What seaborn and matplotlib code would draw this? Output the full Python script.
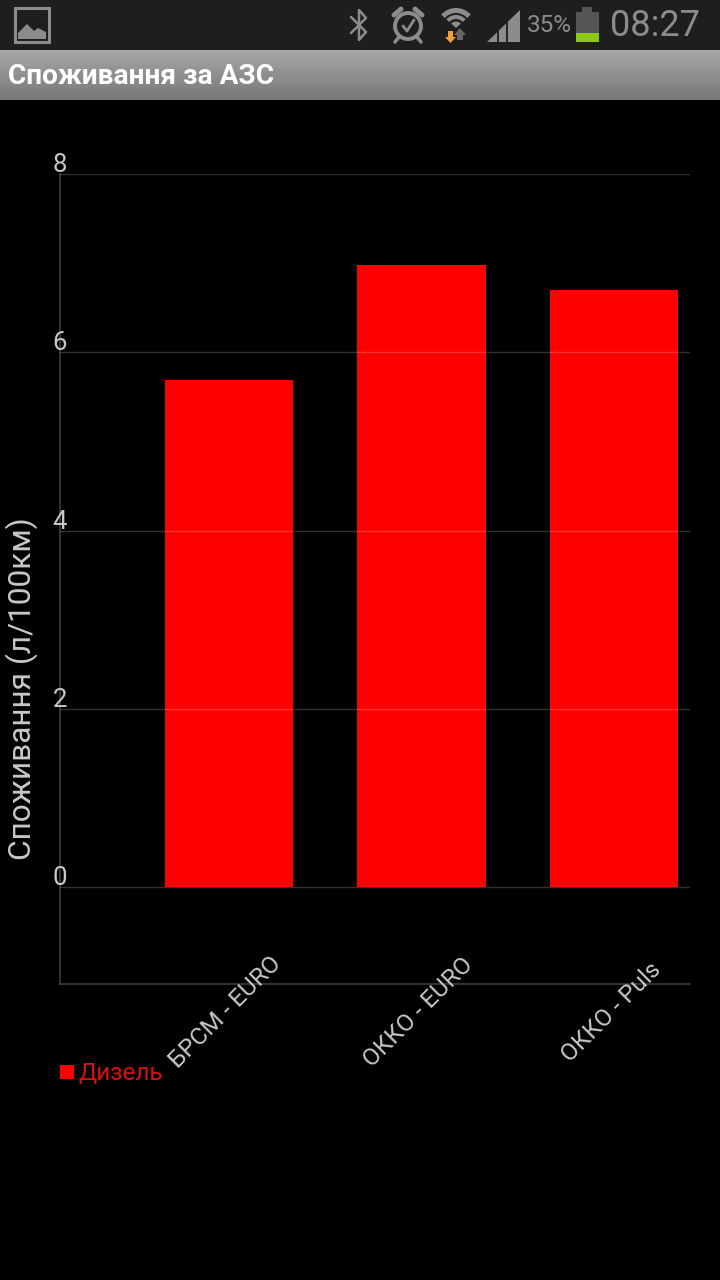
import matplotlib
matplotlib.use("Agg")
import matplotlib.pyplot as plt
import numpy as np
import pandas as pd
import seaborn as sns
from matplotlib.lines import Line2D
from matplotlib.patches import Circle, Polygon, Rectangle, Wedge
from matplotlib.transforms import ScaledTranslation

stations = ["БРСМ - EURO", "ОККО - EURO", "ОККО - Puls"]
consumption = [5.69, 6.98, 6.70]
y_ticks = [0, 2, 4, 6, 8]
series_name = "Дизель"
y_title = "Споживання (л/100км)"
screen_title = "Споживання за АЗС"

sns.set_theme(style="dark")
plt.rcParams["font.family"] = ["Roboto", "DejaVu Sans"]

W, H = 720, 1280
fig = plt.figure(figsize=(W / 100, H / 100), dpi=100, facecolor="black")


def nudge(text, dx, dy):
    # shift a text by screen pixels (dy > 0 is down)
    off = ScaledTranslation(dx / 100, -dy / 100, fig.dpi_scale_trans)
    text.set_transform(text.get_transform() + off)


# ----------------------------------
# Chart
# ----------------------------------
ax = fig.add_axes([60 / W, 1 - 984 / H, 630 / W, 810 / H], facecolor="black")
df = pd.DataFrame({"station": stations, "value": consumption})
sns.barplot(data=df, x="station", y="value", color="#ff0000", saturation=1,
            width=0.667, linewidth=0, ax=ax, zorder=2)
ax.set_xlim(-0.878, 2.395)
ax.set_ylim(-1.088, 8)
ax.set_xlabel("")
ax.set_ylabel("")

for s in ["top", "right"]:
    ax.spines[s].set_visible(False)
for s in ["left", "bottom"]:
    ax.spines[s].set_color("#3c3c3c")
    ax.spines[s].set_linewidth(1.2)

ax.set_yticks(y_ticks)
ax.set_yticklabels([str(t) for t in y_ticks], color="#c8c8c8", fontsize=18.5,
                   ha="center", va="bottom")
ax.tick_params(axis="y", length=0, pad=0)
ax.tick_params(axis="x", length=4, width=1, color="#555555", pad=-4)
ax.yaxis.grid(True, color="#ffffff", alpha=0.2, linewidth=1, zorder=3)
ax.xaxis.grid(False)
ax.set_axisbelow(False)
for lab in ax.get_yticklabels():
    nudge(lab, 0, 3)

ax.set_xticks(range(len(stations)))
ax.set_xticklabels(stations, rotation=45, ha="center", va="center",
                   color="#c8c8c8", fontsize=17.5, rotation_mode="anchor")
for lab in ax.get_xticklabels():
    lab.set_y(-0.035)
    nudge(lab, -3, 0)

ax.text(22 / W, 1 - 689 / H, y_title, transform=fig.transFigure, rotation=90,
        color="#c8c8c8", fontsize=22.8, ha="center", va="center")

handle = Line2D([], [], marker="s", linestyle="none", color="#ff0000",
                markersize=9.4, markeredgewidth=0)
ax.legend([handle], [series_name], loc="center left", frameon=False,
          bbox_to_anchor=(60 / W, 1 - 1074 / H), bbox_transform=fig.transFigure,
          labelcolor="#d81010", fontsize=17.5, handlelength=0.55,
          handletextpad=0.2, borderpad=0, borderaxespad=0)

# ----------------------------------
# Phone status bar and title bar
# ----------------------------------
ui = fig.add_axes([0, 0, 1, 1], facecolor="none")
ui.axis("off")

grad = np.linspace(0.65, 0.47, 50).reshape(-1, 1)
ui.imshow(grad, extent=(0, W, 100, 50), cmap="gray", vmin=0, vmax=1, aspect="auto")
ui.set_xlim(0, W)
ui.set_ylim(H, 0)
ui.add_patch(Rectangle((0, 0), W, 50, color="#1e1e1e", lw=0))
ui.text(8, 76, screen_title, color="#ffffff", fontsize=20.2, fontweight="bold",
        ha="left", va="center")

icon = "#8c8c8c"
bar_bg = "#1e1e1e"
# picture icon
ui.add_patch(Rectangle((15, 8), 34, 34, fill=False, ec=icon, lw=2.2))
ui.add_patch(Polygon([(18, 39), (18, 33), (27, 24), (34, 31), (38, 28), (46, 32), (46, 39)],
                     color=icon, lw=0))
# bluetooth
ui.plot([351, 366, 359, 359, 366, 351], [17, 32, 40, 10, 18, 33], color=icon, lw=1.8)
# alarm
ui.add_patch(Circle((408, 26), 13, fill=False, ec=icon, lw=2.8))
ui.plot([403, 407, 414], [26, 31, 20], color=icon, lw=2)
ui.plot([394, 401], [15, 9], color=icon, lw=3.5)
ui.plot([415, 422], [9, 15], color=icon, lw=3.5)
ui.plot([399, 395], [37, 42], color=icon, lw=2.5)
ui.plot([417, 421], [37, 42], color=icon, lw=2.5)
# wifi
ui.add_patch(Wedge((456, 28), 20, 222, 318, width=5, color=icon, lw=0))
ui.add_patch(Wedge((456, 28), 13, 222, 318, width=4, color=icon, lw=0))
ui.add_patch(Wedge((456, 28), 6.5, 222, 318, color=icon, lw=0))
ui.add_patch(Polygon([(460, 28), (466, 35), (463, 35), (463, 40), (457, 40), (457, 35), (454, 35)],
                     color="#666666", lw=0))
ui.add_patch(Polygon([(448, 31), (453, 31), (453, 37), (456, 37), (450.5, 43), (445, 37), (448, 37)],
                     color="#f0a030", lw=0))
# signal
ui.add_patch(Polygon([(487, 42), (520, 10), (520, 42)], color=icon, lw=0))
for x in [498, 507]:
    ui.plot([x, x], [10, 43], color=bar_bg, lw=1.3)
ui.text(549, 25.5, "35%", color=icon, fontsize=17.5, ha="center", va="center")
# battery
ui.add_patch(Rectangle((582, 7), 10, 5, color="#555555", lw=0))
ui.add_patch(Rectangle((576, 12), 23, 21, color="#555555", lw=0))
ui.add_patch(Rectangle((576, 33), 23, 9, color="#8cc814", lw=0))
ui.text(655, 26, "08:27", color=icon, fontsize=26, ha="center", va="center")

fig.savefig("out.png", dpi=100, facecolor="black")
